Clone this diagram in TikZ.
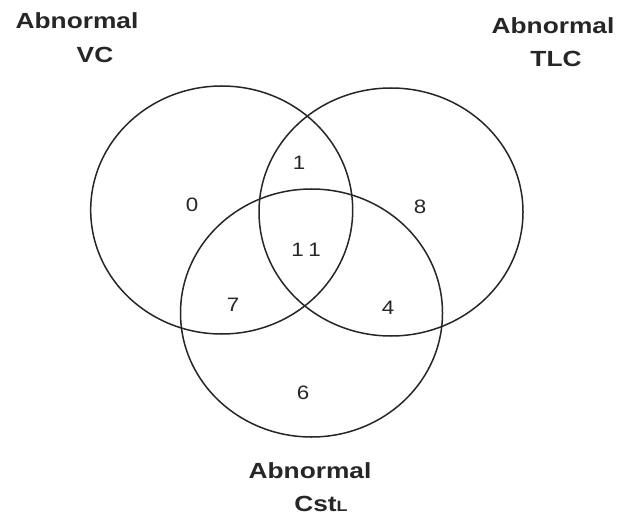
\documentclass[tikz,border=0pt]{standalone}
\usepackage{fontspec}
\setmainfont{Liberation Sans}
\begin{document}
\begin{tikzpicture}[x=1bp,y=-1bp,
  ring/.style={draw=black!85,line width=1.5bp},
  lbl/.style={font=\fontsize{22}{26}\selectfont\bfseries,inner sep=0pt,text=black!85},
  num/.style={font=\fontsize{19.5}{22}\selectfont,inner sep=0pt,text=black!85}]
\useasboundingbox[fill=white] (0,0) rectangle (626,518);
% circles
\draw[ring] (221.7,210) ellipse [x radius=131, y radius=124];
\draw[ring] (391,212) ellipse [x radius=132, y radius=124];
\draw[ring] (311.5,313) ellipse [x radius=131, y radius=124];
% counts
\node[num] (n0) at (192,205) {\scalebox{1.15}[1]{0}};
\node[num] (n1) at (299,163) {\scalebox{1.15}[1]{1}};
\node[num] (n8) at (420,207) {\scalebox{1.15}[1]{8}};
\node[num] (n11) at (306,250) {\scalebox{1.15}[1]{1\hspace{4bp}1}};
\node[num] (n7) at (233,305) {\scalebox{1.15}[1]{7}};
\node[num] (n4) at (388,308) {\scalebox{1.15}[1]{4}};
\node[num] (n6) at (303,393) {\scalebox{1.15}[1]{6}};
% labels
\node[lbl] (vc1) at (77,21) {\scalebox{1.2}[1]{Abnormal}};
\node[lbl] (vc2) at (95,55) {\scalebox{1.2}[1]{VC}};
\node[lbl] (tl1) at (553,26) {\scalebox{1.2}[1]{Abnormal}};
\node[lbl] (tl2) at (556,59) {\scalebox{1.2}[1]{TLC}};
\node[lbl] (cs1) at (310,471) {\scalebox{1.2}[1]{Abnormal}};
\node[lbl] (cs2) at (321,504) {\scalebox{1.2}[1]{Cst{\fontsize{15}{17}\selectfont L}}};
\end{tikzpicture}
\end{document}
